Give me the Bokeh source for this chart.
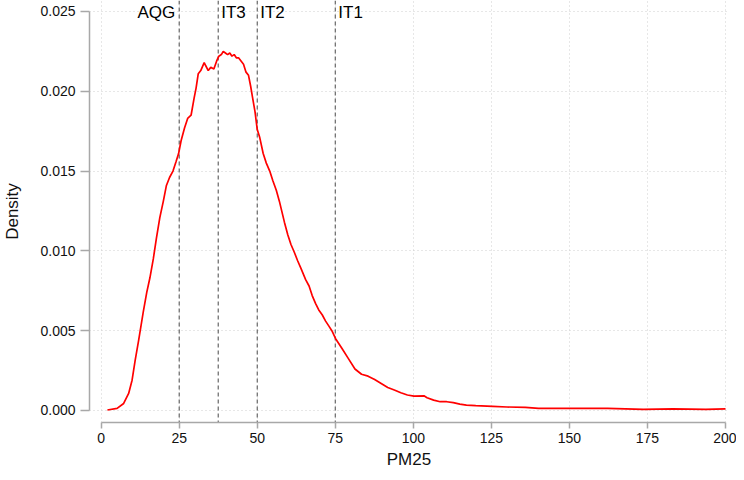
from bokeh.plotting import figure
from bokeh.models import Range1d, FixedTicker, Span, NumeralTickFormatter, ColumnDataSource
from bokeh.core.properties import value
from bokeh.embed import file_html
from bokeh.resources import INLINE

# Kernel density of PM25
pm25 = [2.0, 5.1, 7.2, 8.8, 9.9, 10.9, 12.0, 13.5, 14.6, 15.6, 16.7, 17.7, 18.8,
        19.9, 20.9, 21.9, 23.0, 24.0, 24.8, 25.6, 26.7, 27.7, 28.8, 29.8, 30.4,
        31.1, 31.9, 33.0, 33.5, 34.3, 35.1, 36.1, 37.0, 37.7, 38.5, 39.1, 39.8,
        40.5, 41.2, 41.9, 42.6, 43.3, 44.0, 44.8, 45.6, 46.4, 47.2, 47.9, 48.5,
        49.3, 50.0, 50.8, 51.9, 52.9, 54.0, 55.0, 56.1, 57.1, 58.7, 59.8, 60.8,
        61.9, 62.9, 64.0, 65.5, 66.6, 67.6, 68.7, 69.7, 70.8, 71.9, 72.9, 73.9,
        75.1, 77.1, 79.2, 81.3, 83.4, 85.5, 87.6, 89.7, 91.8, 93.9, 96.0, 98.1,
        100.2, 103.4, 104.4, 106.5, 108.6, 110.7, 112.8, 114.9, 117.0, 120.0,
        125.4, 130.0, 135.9, 140.1, 150.6, 162.2, 173.7, 183.2, 193.7, 200.0]
density = [0.00003, 0.00013, 0.00044, 0.00107, 0.0019, 0.00315, 0.0044, 0.0062,
           0.0074, 0.0083, 0.0095, 0.0108, 0.0121, 0.0131, 0.0141, 0.0146, 0.0150,
           0.0156, 0.0161, 0.0169, 0.0177, 0.0183, 0.0185, 0.0196, 0.0202, 0.0211,
           0.0213, 0.0218, 0.0216, 0.0213, 0.0215, 0.0214, 0.0219, 0.0222, 0.0223,
           0.0225, 0.0224, 0.0223, 0.0224, 0.0222, 0.0223, 0.0221, 0.0221, 0.0219,
           0.0217, 0.0212, 0.0210, 0.0203, 0.0196, 0.0187, 0.0176, 0.0171, 0.0161,
           0.0155, 0.0150, 0.0144, 0.0138, 0.0131, 0.0118, 0.0110, 0.0104, 0.0099,
           0.0094, 0.0089, 0.0082, 0.0078, 0.0072, 0.0067, 0.0063, 0.0060, 0.0056,
           0.0053, 0.0050, 0.0045, 0.0039, 0.00325, 0.0026, 0.00227, 0.00215,
           0.00194, 0.00169, 0.00144, 0.00128, 0.00111, 0.00097, 0.0009, 0.00092,
           0.0008, 0.00065, 0.00055, 0.00055, 0.00049, 0.0004, 0.00034, 0.0003,
           0.00026, 0.00022, 0.00019, 0.00013, 0.00013, 0.00013, 0.00007, 0.0001,
           0.00007, 0.0001]

guide_values = [25, 37.5, 50, 75]
guide_names = ["AQG", "IT3", "IT2", "IT1"]
label_y = 0.025

x_ticks = [0, 25, 50, 75, 100, 125, 150, 175, 200]
y_ticks = [0.0, 0.005, 0.010, 0.015, 0.020, 0.025]

FONT = "Liberation Sans"

p = figure(width=736, height=472, output_backend="svg", toolbar_location=None,
           x_range=Range1d(-3.74, 200.96), y_range=Range1d(-0.000752, 0.025689),
           min_border_left=87, min_border_right=8, min_border_top=0,
           min_border_bottom=50)
p.outline_line_color = None
p.background_fill_color = "white"
p.border_fill_color = "white"

# grids
p.xgrid.ticker = FixedTicker(ticks=x_ticks)
p.ygrid.ticker = FixedTicker(ticks=y_ticks)
for g in (p.xgrid[0], p.ygrid[0]):
    g.grid_line_color = "#cfcfcf"
    g.grid_line_dash = "1 3"
    g.grid_line_width = 1

# guideline spans
for v in guide_values:
    p.add_layout(Span(location=v, dimension="height", line_color="#666666",
                      line_dash="4 3", line_width=1.2, level="underlay"))

p.line(pm25, density, line_color="#ff0000", line_width=1.7)

# labels: first one to the west of its line, the rest to the east
src_w = ColumnDataSource(dict(x=guide_values[:1], y=[label_y], t=guide_names[:1]))
src_e = ColumnDataSource(dict(x=guide_values[1:], y=[label_y] * 3, t=guide_names[1:]))
p.text(x="x", y="y", text="t", source=src_w, text_align="right", text_baseline="middle",
       x_offset=-4, y_offset=1.5, text_font=value(FONT), text_font_size="17px",
       text_color="black")
p.text(x="x", y="y", text="t", source=src_e, text_align="left", text_baseline="middle",
       x_offset=3, y_offset=1.5, text_font=value(FONT), text_font_size="17px",
       text_color="black")

# axes
p.xaxis.ticker = FixedTicker(ticks=x_ticks)
p.yaxis.ticker = FixedTicker(ticks=y_ticks)
p.yaxis.formatter = NumeralTickFormatter(format="0.000")
p.xaxis.bounds = (0, 200)
p.yaxis.bounds = (0, 0.025)
p.xaxis.axis_label = "PM25"
p.yaxis.axis_label = "Density"
for ax in (p.xaxis[0], p.yaxis[0]):
    ax.axis_line_color = "#a8a8a8"
    ax.axis_line_width = 1.5
    ax.major_tick_line_color = "#a8a8a8"
    ax.major_tick_line_width = 1.5
    ax.minor_tick_line_color = None
    ax.major_tick_in = 0
    ax.major_label_text_font = FONT
    ax.major_label_text_font_size = "14px"
    ax.major_label_text_color = "#111111"
    ax.axis_label_text_font = FONT
    ax.axis_label_text_font_size = "17px"
    ax.axis_label_text_font_style = "normal"
    ax.axis_label_text_color = "#111111"
p.yaxis.major_tick_out = 9
p.yaxis.major_label_standoff = 5
p.yaxis.axis_label_standoff = 15
p.xaxis.major_tick_out = 6
p.xaxis.major_label_standoff = 4
p.xaxis.axis_label_standoff = 4

open("out.html", "w").write(file_html(p, INLINE))
